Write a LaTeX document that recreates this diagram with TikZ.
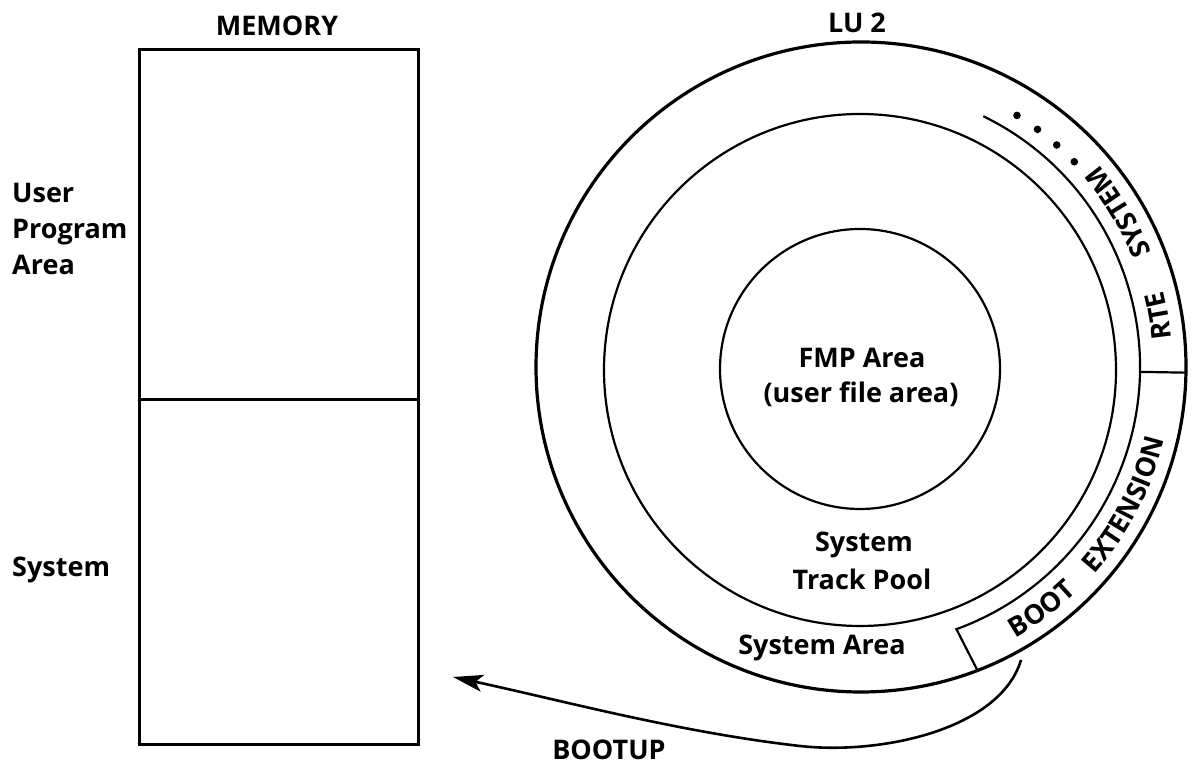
\documentclass[tikz,border=0pt]{standalone}
\usepackage{fontspec}
\setmainfont{Open Sans}
\usetikzlibrary{decorations.text,arrows.meta,calc}
\newcommand\lblfont{\bfseries\fontsize{27}{30}\selectfont}
\newcommand\ringfont{\bfseries\fontsize{27}{28}\selectfont}
\begin{document}
\begin{tikzpicture}[x=1pt,y=1pt,
  lbl/.style={font=\lblfont, inner sep=0pt},
  ringtext/.style={decorate, decoration={text along path, text align=center, text={|\ringfont|#1}}},
  boxline/.style={line width=3pt},
  disk/.style={line width=3.2pt},
  track/.style={line width=2.2pt},
  bootarrow/.style={line width=2.6pt, -{Stealth[length=30pt,width=17pt,inset=7pt]}}]
\useasboundingbox (0,0) rectangle (1192,767);
% disk geometry
\coordinate (C) at (861,400);
\coordinate (T) at (860,397);
\coordinate (F) at (860,398);
\draw[disk] (C) circle[radius=325pt];
\draw[track] (T) circle[radius=256pt];
\draw[track] (F) circle[radius=140pt];
\draw[track] ($(C)+(64:279pt)$) arc[start angle=64, end angle=-70, radius=279pt] -- ($(C)+(-69:325pt)$);
\draw[track] ($(C)+(-1:279pt)$) -- ($(C)+(-1:325pt)$);
\foreach \a in {58.2,53.4,48.6,43.9} \fill ($(C)+(\a:296pt)$) circle[radius=3.8pt];
% ring texts
\path[ringtext={BOOT}] ($(C)+(-61:312pt)$) arc[start angle=-61, end angle=-45.5, radius=312pt];
\path[ringtext={EXTENSION}] ($(C)+(-42:312pt)$) arc[start angle=-42, end angle=-13, radius=312pt];
\path[ringtext={RTE}] ($(C)+(5.5:312pt)$) arc[start angle=5.5, end angle=14, radius=312pt];
\path[ringtext={SYSTEM}] ($(C)+(20.5:312pt)$) arc[start angle=20.5, end angle=41.5, radius=312pt];
% memory box
\draw[boxline] (139,22) rectangle (418,717);
\draw[boxline] (139,367) -- (418,367);
% labels
\node[lbl, anchor=base] (memory) at (277,731) {MEMORY};
\node[lbl, anchor=base] (lu) at (857,734) {LU 2};
\node[lbl, anchor=base west] (user) at (12,564) {User};
\node[lbl, anchor=base west] (program) at (12,528) {Program};
\node[lbl, anchor=base west] (area) at (12,492) {Area};
\node[lbl, anchor=base west] (system) at (12,190) {System};
\node[lbl, anchor=base] (fmp) at (862,399) {FMP Area};
\node[lbl, anchor=base] (ufa) at (861,364) {(user file area)};
\node[lbl, anchor=base] (stp1) at (864,215) {System};
\node[lbl, anchor=base] (stp2) at (862,177) {Track Pool};
\node[lbl, anchor=base] (sysarea) at (822,112) {System Area};
\node[lbl, anchor=base] (bootup) at (609,7) {BOOTUP};
% bootup arrow
\coordinate (bootsrc) at (1021,107);
\coordinate (boottip) at (453,90);
\draw[bootarrow] (bootsrc) .. controls (1000,37) and (880,12) .. (800,21) .. controls (680,34.5) and (560,67) .. (boottip);
\end{tikzpicture}
\end{document}
